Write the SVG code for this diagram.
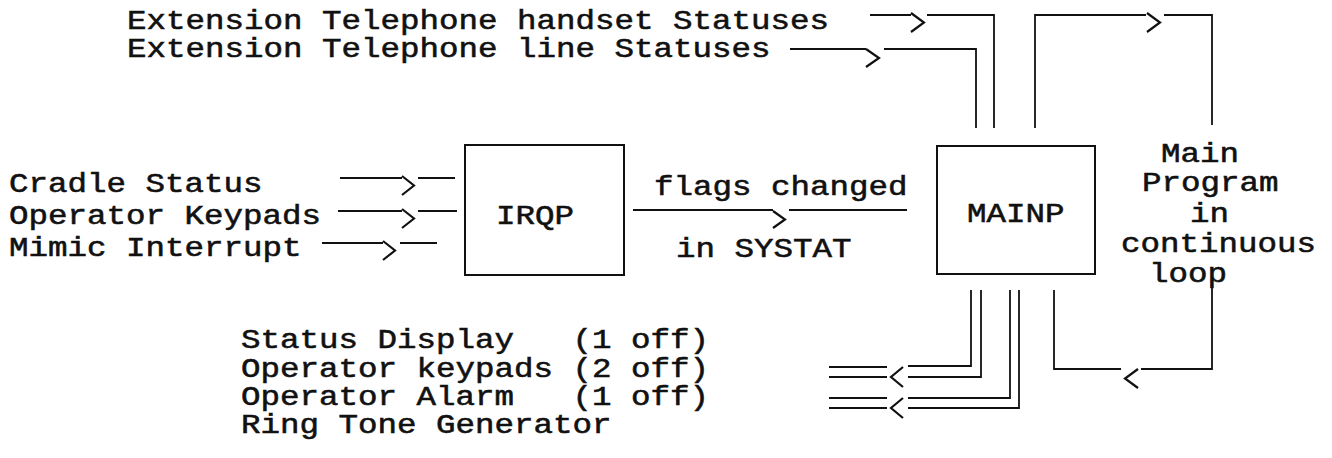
<svg xmlns="http://www.w3.org/2000/svg" width="1332" height="458" viewBox="0 0 1332 458">
  <style>
    .t { font-family: "Liberation Mono", "Courier New", monospace; font-size: 27.5px; fill: #111; stroke: #111; stroke-width: 0.55; white-space: pre; }
    .ln { fill: none; stroke: #111; stroke-width: 1.8; }
    .chev { fill: none; stroke: #111; stroke-width: 2.2; stroke-linejoin: miter; }
    .box { fill: none; stroke: #111; stroke-width: 2; }
  </style>
  <rect width="1332" height="458" fill="#fff"/>

  <!-- typewriter grid: 19.5px per character cell -->
  <g id="labels-inputs">
    <text class="t" x="127" y="29" textLength="702" lengthAdjust="spacingAndGlyphs" xml:space="preserve">Extension Telephone handset Statuses</text>
    <text class="t" x="127" y="57" textLength="643.5" lengthAdjust="spacingAndGlyphs" xml:space="preserve">Extension Telephone line Statuses</text>
    <text class="t" x="9" y="192" textLength="253.5" lengthAdjust="spacingAndGlyphs" xml:space="preserve">Cradle Status</text>
    <text class="t" x="9" y="224" textLength="312" lengthAdjust="spacingAndGlyphs" xml:space="preserve">Operator Keypads</text>
    <text class="t" x="9" y="256" textLength="292.5" lengthAdjust="spacingAndGlyphs" xml:space="preserve">Mimic Interrupt</text>
  </g>
  <g id="labels-outputs">
    <text class="t" x="241" y="348" textLength="468" lengthAdjust="spacingAndGlyphs" xml:space="preserve">Status Display   (1 off)</text>
    <text class="t" x="241" y="377" textLength="468" lengthAdjust="spacingAndGlyphs" xml:space="preserve">Operator keypads (2 off)</text>
    <text class="t" x="241" y="405" textLength="468" lengthAdjust="spacingAndGlyphs" xml:space="preserve">Operator Alarm   (1 off)</text>
    <text class="t" x="241" y="433" textLength="370.5" lengthAdjust="spacingAndGlyphs" xml:space="preserve">Ring Tone Generator</text>
  </g>

  <!-- interrupt routine -->
  <g id="irqp">
    <rect class="box" x="465" y="145" width="159" height="130"/>
    <text class="t" x="496" y="224" textLength="78" lengthAdjust="spacingAndGlyphs">IRQP</text>
  </g>

  <!-- main program -->
  <g id="mainp">
    <rect class="box" x="937" y="146" width="158" height="128"/>
    <text class="t" x="967" y="222" textLength="97.5" lengthAdjust="spacingAndGlyphs">MAINP</text>
  </g>

  <g id="loop-label">
    <text class="t" x="1161" y="162" textLength="78" lengthAdjust="spacingAndGlyphs">Main</text>
    <text class="t" x="1142" y="191" textLength="136.5" lengthAdjust="spacingAndGlyphs">Program</text>
    <text class="t" x="1190" y="222" textLength="39" lengthAdjust="spacingAndGlyphs">in</text>
    <text class="t" x="1121" y="252" textLength="195" lengthAdjust="spacingAndGlyphs">continuous</text>
    <text class="t" x="1149" y="282" textLength="78" lengthAdjust="spacingAndGlyphs">loop</text>
  </g>

  <g id="flag-label">
    <text class="t" x="654" y="195" textLength="253.5" lengthAdjust="spacingAndGlyphs" xml:space="preserve">flags changed</text>
    <text class="t" x="676" y="257" textLength="175.5" lengthAdjust="spacingAndGlyphs" xml:space="preserve">in SYSTAT</text>
  </g>

  <!-- connectors -->
  <g id="connectors">
    <!-- handset statuses into MAINP -->
    <path class="ln" d="M870 15 H911 M927 15 H994 V128"/>
    <path class="chev" d="M911 13 L924 22.5 L911 32"/>
    <!-- line statuses into MAINP -->
    <path class="ln" d="M790 49 H866 M884 49 H976 V128"/>
    <path class="chev" d="M866 49 L879 58 L866 67"/>
    <!-- continuous loop -->
    <path class="ln" d="M1035 128 V15 H1146 M1164 15 H1212 V125"/>
    <path class="chev" d="M1147 13 L1160 22.5 L1147 32"/>
    <path class="ln" d="M1212 280 V369 H1141 M1121 369 H1054 V290"/>
    <path class="chev" d="M1138 369 L1125 378.5 L1138 388"/>

    <!-- interrupt sources into IRQP -->
    <path class="ln" d="M340 178 H402 M418 178 H455"/>
    <path class="chev" d="M402 176 L414 185.5 L402 195"/>
    <path class="ln" d="M338 211 H402 M418 211 H457"/>
    <path class="chev" d="M402 209 L414 218.5 L402 228"/>
    <path class="ln" d="M322 243 H383 M400 243 H437"/>
    <path class="chev" d="M383 241 L395 250.5 L383 260"/>

    <!-- IRQP to MAINP via SYSTAT -->
    <path class="ln" d="M633 210 H773 M789 210 H907"/>
    <path class="chev" d="M773 211 L785 219.5 L773 228"/>

    <!-- MAINP outputs -->
    <path class="ln" d="M971 290 V366 H908 M981 290 V377 H908"/>
    <path class="ln" d="M829 367 H887 M829 377 H887"/>
    <path class="chev" d="M903 367 L891 377 L903 387"/>
    <path class="ln" d="M1010 290 V398 H908 M1019 290 V408 H908"/>
    <path class="ln" d="M829 398 H887 M829 408 H887"/>
    <path class="chev" d="M903 398 L891 408 L903 418"/>
  </g>
</svg>
